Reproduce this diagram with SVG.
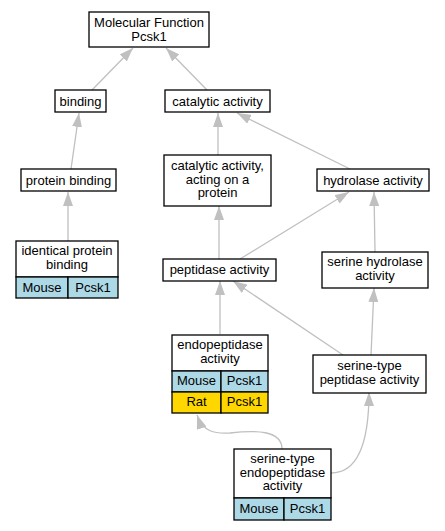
<svg xmlns="http://www.w3.org/2000/svg" width="445" height="531" viewBox="0 0 445 531">
<style>
text{font-family:"Liberation Sans",Arial,sans-serif;font-size:13px;fill:#000;text-anchor:middle}
.box{fill:#fff;stroke:#000;stroke-width:1.3}
.m{fill:#add8e6;stroke:#000;stroke-width:1.3}
.r{fill:#ffd700;stroke:#000;stroke-width:1.3}
.e{fill:none;stroke:#c0c0c0;stroke-width:1.3}
</style>
<defs>
<marker id="a" viewBox="0 0 14 10" refX="14" refY="5" markerWidth="14" markerHeight="10" markerUnits="userSpaceOnUse" orient="auto">
<path d="M0,0 L14,5 L0,10 z" fill="#c0c0c0"/>
</marker>
</defs>
<rect width="445" height="531" fill="#fff"/>
<g id="edges">
<path class="e" marker-end="url(#a)" d="M92,90 L133,48"/>
<path class="e" marker-end="url(#a)" d="M207,90 L166,48"/>
<path class="e" marker-end="url(#a)" d="M71,169 L79,113"/>
<path class="e" marker-end="url(#a)" d="M68,241 L68,192"/>
<path class="e" marker-end="url(#a)" d="M218,155 L218,113"/>
<path class="e" marker-end="url(#a)" d="M350,169 L237,113"/>
<path class="e" marker-end="url(#a)" d="M219,259 L219,206"/>
<path class="e" marker-end="url(#a)" d="M240,259 L349,192"/>
<path class="e" marker-end="url(#a)" d="M375,252 L374,192"/>
<path class="e" marker-end="url(#a)" d="M220,334 L220,281"/>
<path class="e" marker-end="url(#a)" d="M343,355 L233,281"/>
<path class="e" marker-end="url(#a)" d="M371,355 L374,288"/>
<path class="e" marker-end="url(#a)" d="M282,449 C282,430 255,430 230,433 C215,434 203,432 197,415"/>
<path class="e" marker-end="url(#a)" d="M331,473 C355,473 369,450 369,392"/>
</g>
<g id="n_mf"><rect class="box" x="89" y="12" width="120" height="35"/><text x="149" y="27">Molecular Function</text><text x="149" y="40.5">Pcsk1</text></g>
<g id="n_binding"><rect class="box" x="55" y="90" width="51" height="22"/><text x="80.5" y="105.5">binding</text></g>
<g id="n_catalytic"><rect class="box" x="165" y="90" width="105" height="22"/><text x="217.5" y="105.5">catalytic activity</text></g>
<g id="n_protein_binding"><rect class="box" x="21" y="169" width="95" height="22"/><text x="68.5" y="184.5">protein binding</text></g>
<g id="n_cat_protein"><rect class="box" x="164" y="155" width="107" height="51"/><text x="217.5" y="170">catalytic activity,</text><text x="217.5" y="183.5">acting on a</text><text x="217.5" y="197">protein</text></g>
<g id="n_hydrolase"><rect class="box" x="317" y="169" width="112" height="22"/><text x="373" y="184.5">hydrolase activity</text></g>
<g id="n_identical"><rect class="box" x="16" y="241" width="102" height="36"/><text x="67" y="255">identical protein</text><text x="67" y="269">binding</text><rect class="m" x="16" y="277" width="52" height="21"/><rect class="m" x="68" y="277" width="50" height="21"/><text x="42" y="291.5">Mouse</text><text x="93" y="291.5">Pcsk1</text></g>
<g id="n_peptidase"><rect class="box" x="163" y="259" width="113" height="22"/><text x="219.5" y="274">peptidase activity</text></g>
<g id="n_serine_hydrolase"><rect class="box" x="322" y="252" width="106" height="36"/><text x="375" y="266">serine hydrolase</text><text x="375" y="279.5">activity</text></g>
<g id="n_endopeptidase"><rect class="box" x="172" y="335" width="96" height="36"/><text x="220" y="349">endopeptidase</text><text x="220" y="362.5">activity</text><rect class="m" x="172" y="371" width="49" height="21"/><rect class="m" x="221" y="371" width="47" height="21"/><text x="196.5" y="385">Mouse</text><text x="244.5" y="385">Pcsk1</text><rect class="r" x="172" y="392" width="49" height="21"/><rect class="r" x="221" y="392" width="47" height="21"/><text x="196.5" y="406">Rat</text><text x="244.5" y="406">Pcsk1</text></g>
<g id="n_serine_peptidase"><rect class="box" x="313" y="355" width="113" height="38"/><text x="369.5" y="370">serine-type</text><text x="369.5" y="383.5">peptidase activity</text></g>
<g id="n_serine_endo"><rect class="box" x="234" y="449" width="97" height="49"/><text x="282.5" y="463">serine-type</text><text x="282.5" y="476.5">endopeptidase</text><text x="282.5" y="490">activity</text><rect class="m" x="234" y="498" width="50" height="22"/><rect class="m" x="284" y="498" width="47" height="22"/><text x="259" y="512.5">Mouse</text><text x="307.5" y="512.5">Pcsk1</text></g>
</svg>
